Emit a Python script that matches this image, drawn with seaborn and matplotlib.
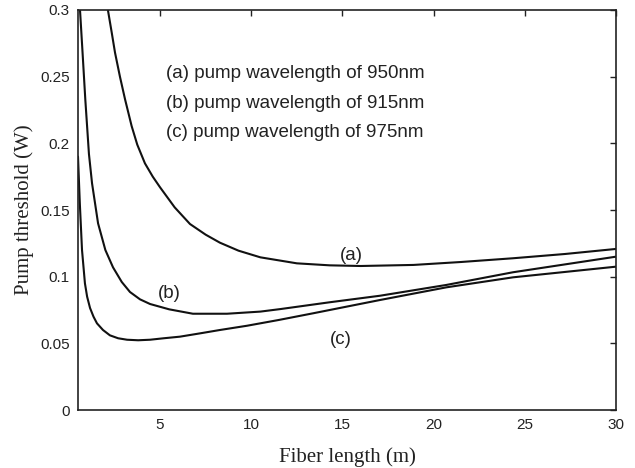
import matplotlib
matplotlib.use("Agg")
import matplotlib.pyplot as plt
import seaborn as sns
import pandas as pd

# Pump threshold versus fiber length for three pump wavelengths
len_a = [2.14, 2.35, 2.53, 2.8, 3.08, 3.44, 3.75, 4.17, 4.6, 5.0, 5.8, 6.64, 7.5,
         8.28, 9.3, 10.5, 12.5, 14.3, 16.0, 18.9, 21.5, 24.35, 27.2, 30.0]
thr_a = [0.30, 0.283, 0.268, 0.25, 0.233, 0.213, 0.199, 0.185, 0.175, 0.167, 0.152,
         0.1395, 0.1315, 0.1255, 0.1195, 0.1145, 0.110, 0.1085, 0.108, 0.1088, 0.111,
         0.1138, 0.117, 0.1208]

len_b = [0.61, 0.75, 0.9, 1.1, 1.27, 1.6, 2.0, 2.42, 2.9, 3.35, 3.9, 4.45, 5.5, 6.8,
         8.67, 10.5, 11.6, 14.3, 17.06, 20.7, 24.35, 30.0]
thr_b = [0.30, 0.268, 0.233, 0.192, 0.170, 0.140, 0.120, 0.107, 0.096, 0.0885, 0.083,
         0.0795, 0.0755, 0.0722, 0.0722, 0.0738, 0.0757, 0.0808, 0.0857, 0.0938, 0.1033,
         0.115]

len_c = [0.5, 0.6, 0.72, 0.88, 1.0, 1.16, 1.35, 1.54, 1.87, 2.25, 2.7, 3.19, 3.8, 4.45,
         5.2, 6.09, 7.2, 8.28, 9.77, 11.5, 13.38, 17.06, 20.7, 24.35, 30.0]
thr_c = [0.19, 0.155, 0.12, 0.095, 0.085, 0.0765, 0.070, 0.065, 0.060, 0.056, 0.0538,
         0.0527, 0.0523, 0.0527, 0.0538, 0.055, 0.0575, 0.060, 0.0632, 0.0675, 0.0725,
         0.0825, 0.092, 0.0995, 0.1075]

legend_lines = ["(a) pump wavelength of 950nm",
                "(b) pump wavelength of 915nm",
                "(c) pump wavelength of 975nm"]
curve_tags = ["(a)", "(b)", "(c)"]

x_ticks = [5, 10, 15, 20, 25, 30]
y_ticks = [0, 0.05, 0.1, 0.15, 0.2, 0.25, 0.3]
y_tick_labels = ["0", "0.05", "0.1", "0.15", "0.2", "0.25", "0.3"]

sns.set_style("white")
plt.rcParams["font.family"] = ["Liberation Sans", "DejaVu Sans"]

fig = plt.figure(figsize=(6.35, 4.68), dpi=100)
ax = fig.add_axes([78 / 635, 58 / 468, 538 / 635, 400 / 468])

for xs, ys in [(len_a, thr_a), (len_b, thr_b), (len_c, thr_c)]:
    df = pd.DataFrame({"length": xs, "threshold": ys})
    sns.lineplot(data=df, x="length", y="threshold", ax=ax, color="#111111",
                 linewidth=1.5, estimator=None, sort=True, legend=False)
for line in ax.get_lines():
    line.set_solid_joinstyle("round")
    line.set_solid_capstyle("round")

ax.set_xlim(0.5, 30)
ax.set_ylim(0, 0.3)
ax.set_xticks(x_ticks)
ax.set_xticklabels([str(t) for t in x_ticks])
ax.set_yticks(y_ticks)
ax.set_yticklabels(y_tick_labels)
ax.tick_params(direction="in", length=4, width=1, top=True, right=True,
               labelsize=11, colors="#222222", pad=6)
for s in ax.spines.values():
    s.set_visible(True)
    s.set_color("#222222")
    s.set_linewidth(1.2)

ax.set_xlabel("Fiber length (m)", family="Liberation Serif", fontsize=15,
              color="#222222", labelpad=11)
ax.set_ylabel("Pump threshold (W)", family="Liberation Serif", fontsize=15,
              color="#222222", labelpad=4)

for i, txt in enumerate(legend_lines):
    ax.text(5.3, 0.252 - i * 0.0218, txt, fontsize=13.5, color="#222222",
            va="center", ha="left")

ax.text(15.5, 0.116, curve_tags[0], fontsize=13.5, color="#222222", ha="center", va="center")
ax.text(5.5, 0.0875, curve_tags[1], fontsize=13.5, color="#222222", ha="center", va="center")
ax.text(14.9, 0.0525, curve_tags[2], fontsize=13.5, color="#222222", ha="center", va="center")

fig.savefig("out.png", dpi=100, facecolor="white")
